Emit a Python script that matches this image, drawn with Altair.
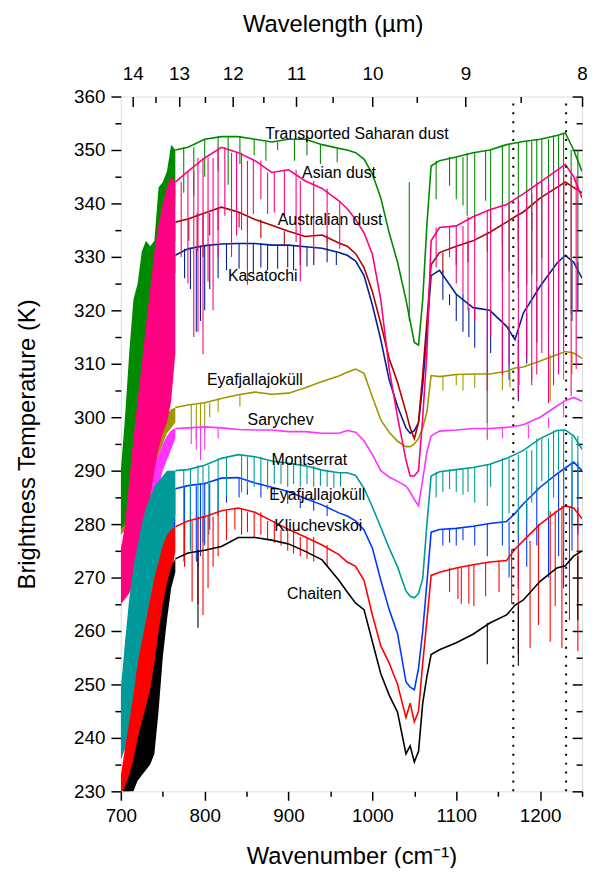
import altair as alt
import pandas as pd

FONT = "Liberation Sans"

# common wavenumber grid for the main spectra (cm-1)
WN = [765, 780, 800, 820, 840, 860, 880, 900, 920, 940,
      960, 970, 980, 990, 1000, 1010, 1020, 1030, 1040, 1045,
      1050, 1055, 1060, 1065, 1070, 1080, 1100, 1120, 1140, 1160,
      1170, 1180, 1200, 1220, 1230, 1240, 1250]
# grid of the dense CO2 band region
BAND_WN = [700, 705, 710, 715, 720, 725, 730, 735, 740, 745, 750, 755, 760, 765]

SAHARAN_BT = [350, 350.5, 352, 352.5, 352.5, 352, 351.5, 352, 352, 351,
              350.3, 350, 349.5, 348.3, 345.5, 341, 334.5, 329, 322, 318,
              314, 313.5, 322, 336, 347, 348, 348.7, 349.5, 350, 351,
              351.3, 351.6, 352, 352.7, 353.2, 350, 346]
SAHARAN_HI = [290, 300, 312, 322, 325, 331, 333, 332, 333, 343, 344, 346, 351, 350]
SAHARAN_LO = [279, 280, 281, 283, 285, 288, 292, 296, 300, 305, 312, 320, 330, 340]
SAHARAN_SPK_WN = [775, 787, 800, 816, 828, 842, 859, 873, 887, 907, 922, 938, 958, 1044,
                  1076, 1092, 1100, 1108, 1113, 1122, 1135, 1141, 1155, 1163, 1174, 1184,
                  1190, 1196, 1202, 1210, 1216, 1222, 1228, 1237, 1245]
SAHARAN_SPK_BT = [342, 341.5, 345, 346, 343.5, 347.4, 349, 348, 350, 348, 349, 347.4, 347.7, 344,
                  340.8, 343.3, 340.8, 339.6, 337.7, 334.6, 340.5, 334, 325.4, 327.3, 324.2, 324.8,
                  326.7, 325.4, 329.8, 322.4, 325.4, 326.7, 316.2, 319.3, 325.4]

ASIAN_BT = [344, 346, 348.5, 350.5, 349.5, 348, 345.8, 346.3, 344.2, 342.8,
            340.5, 339, 337, 334.5, 330.5, 322, 309, 300, 292, 289,
            289, 290, 300, 312, 333, 335.5, 335.8, 337.5, 338.8, 339.8,
            340.8, 341.8, 344, 346.2, 347.3, 345, 341]
ASIAN_HI = [275, 280, 288, 296, 303, 310, 317, 324, 331, 336, 340, 343, 345, 344]
ASIAN_LO = [265, 266, 267, 269, 272, 275, 280, 285, 290, 294, 297, 299, 303, 312]
ASIAN_SPK_WN = [772, 780, 787, 792, 798, 804, 810, 816, 824, 832, 838, 844, 851, 858, 867, 875,
                883, 895, 909, 914, 930, 946, 961,
                1076, 1092, 1100, 1108, 1114, 1122, 1137, 1141, 1155, 1163, 1174, 1184, 1190,
                1196, 1202, 1210, 1216, 1222, 1228, 1237, 1243]
ASIAN_SPK_BT = [330, 325, 315, 316, 311.8, 325.4, 320, 330, 337.7, 330, 334, 335, 324.8, 338, 340.8, 338,
                338.3, 337.7, 332.8, 325.4, 329, 332.8, 331.5,
                328, 330, 325, 323, 320, 318, 305, 315, 308, 310, 303.8, 311, 306,
                308, 312, 302.6, 306, 308, 312.4, 304, 309]

AUSTRALIAN_BT = [336.5, 337.1, 338.2, 339.3, 338.4, 337, 335.9, 334.8, 333.8, 334.1,
                 332.6, 332, 330.6, 328, 323.5, 317.5, 311, 306.5, 301, 298,
                 296, 299, 308, 318, 328.5, 330.8, 332, 333, 334.6, 336.5,
                 337.5, 338.4, 341, 343, 344, 343, 342]
AUSTRALIAN_HI = [288, 290, 293, 297, 300, 306, 312, 318, 322, 327, 331, 333, 335, 336.5]
AUSTRALIAN_LO = [283, 284, 286, 288, 290, 294, 298, 303, 308, 314, 320, 325, 330, 333]
AUSTRALIAN_SPK_WN = [781, 791, 798, 806, 816, 841, 851, 867, 895, 914, 946,
                     1084, 1100, 1114, 1137, 1155, 1174, 1190, 1210, 1228]
AUSTRALIAN_SPK_BT = [333, 331, 330, 334, 335, 335.5, 334.5, 333.5, 332, 331, 331.5,
                     327, 328.5, 329, 331, 332, 333, 335, 337, 338]

KASATOCHI_BT = [330.3, 331.5, 332.1, 332.4, 332.5, 332.5, 332.2, 332.2, 331.9, 331.6,
                330.8, 330.3, 329.2, 326.5, 321, 314.5, 307, 302, 298, 297,
                297.5, 299, 306, 316, 326.5, 327.5, 323, 320.5, 320, 317,
                314.5, 319.5, 324.5, 328.8, 330.3, 329, 326]
KASATOCHI_HI = [284, 287, 290, 294, 298, 303, 308, 313, 318, 322, 326, 328, 330, 330.3]
KASATOCHI_LO = [278, 279, 281, 283, 285, 288, 292, 297, 302, 308, 314, 320, 325, 327]
KASATOCHI_SPK_WN = [776, 783, 790, 795, 800, 806, 816, 826, 841, 851, 858, 867, 875, 887, 899,
                    906, 914, 922, 930, 946, 957,
                    1084, 1092, 1100, 1108, 1115, 1122, 1137, 1141, 1155, 1163, 1174, 1184,
                    1196, 1210, 1222, 1228, 1238, 1245]
KASATOCHI_SPK_BT = [326, 324, 316, 318, 320, 324, 326, 327.5, 327.8, 328, 327, 328, 327.5, 327.8, 328,
                    327.5, 328.5, 328.2, 328.5, 329, 328.5,
                    322, 321, 318, 316, 315, 313, 298.9, 312, 308, 307, 303, 310,
                    314, 316, 320, 315, 318, 320]

EYAF1_BT = [301.8, 302.3, 302.7, 303.5, 304.2, 304.7, 304.3, 304.5, 305.5, 306.7,
            307.7, 308.4, 309, 308.2, 303.8, 299.5, 297.2, 295.5, 294.5, 294.5,
            295, 296, 298, 301, 307.8, 307.6, 308, 308.1, 308.1, 308.6,
            309.2, 309.4, 310.5, 311.7, 312.3, 312, 311]
EYAF1_HI = [282, 283, 284, 285, 287, 289, 291, 293, 295, 297, 299, 300.5, 301.5, 301.8]
EYAF1_LO = [278, 279, 280, 281, 283, 285, 287, 289, 291, 293, 295, 297, 298, 299]
EYAF1_SPK_WN = [784, 790, 795, 800, 806, 816, 842,
                1084, 1100, 1108, 1122, 1137, 1155, 1164, 1175, 1190, 1212, 1228, 1238]
EYAF1_SPK_BT = [297.6, 296, 295, 297, 300, 301, 302,
                305, 306, 305, 305.5, 296, 305, 305.6, 306, 307, 303, 307, 308]

SARYCHEV_BT = [297.9, 298, 298.2, 298, 297.7, 297.6, 297.6, 297.3, 297.3, 297,
               297, 297.5, 297.2, 295.6, 293, 290, 288.8, 288, 287.1, 286,
               284.6, 283.4, 288.3, 293.5, 296.5, 297.4, 297.6, 297.9, 297.9, 298.1,
               298.3, 298.6, 300, 302.1, 303.1, 303.7, 303]
SARYCHEV_HI = [276, 277, 279, 281, 283, 285, 287, 289, 291, 293, 295, 296.5, 297.5, 298]
SARYCHEV_LO = [270, 271, 272, 274, 276, 278, 280, 282, 284, 287, 290, 292, 294, 296]
SARYCHEV_SPK_WN = [784, 790, 795, 800, 816, 1137, 1155, 1186, 1210, 1228]
SARYCHEV_SPK_BT = [295, 293.9, 292, 293.9, 296, 295.7, 296, 296, 298, 300]

MONTSERRAT_BT = [290, 290.2, 291, 292.3, 293, 292.6, 291.8, 291.4, 290.9, 290.1,
                 289.6, 289.6, 289.1, 286.7, 283.2, 279.4, 275.5, 272, 267.5, 266.5,
                 266.2, 267, 269.8, 280, 289, 289.8, 290.2, 290.6, 291.2, 292.3,
                 293, 293.8, 296, 297.5, 297.6, 296.5, 294]
MONTSERRAT_HI = [249, 258, 266, 272, 276, 280, 283, 285, 287, 288, 289, 290, 290, 290]
MONTSERRAT_LO = [236, 238, 242, 245, 247, 250, 252, 255, 258, 262, 266, 270, 276, 282]
MONTSERRAT_SPK_WN = [775, 783, 792, 798, 805, 816, 826, 844, 851, 859, 867, 875, 883, 891, 899,
                     906, 914, 922, 930, 938, 946, 954, 962,
                     1076, 1084, 1092, 1100, 1108, 1114, 1122, 1137, 1141, 1155, 1163, 1174,
                     1184, 1190, 1196, 1202, 1210, 1216, 1222, 1228, 1238, 1245]
MONTSERRAT_SPK_BT = [273, 275, 272, 276.5, 278, 281.5, 285.3, 285.9, 286.5, 287, 287.5, 286.5, 287.5, 287.5, 287,
                     287.5, 287, 287.5, 287, 287.2, 287, 286.8, 287,
                     285, 286, 286.5, 286, 285.5, 286, 284, 283.4, 287, 280, 282, 278,
                     281, 284, 286, 288, 281, 285, 290, 275, 280, 285]

EYAF2_BT = [286.6, 287.2, 287.6, 288.6, 288.7, 287.7, 286.9, 286.1, 284.8, 283.6,
            282.1, 281.5, 280.6, 278.9, 275.5, 269.5, 264, 259.5, 250.5, 249.5,
            249, 253, 260, 269, 278.5, 279, 279.2, 279.6, 280.1, 280.5,
            282, 283.8, 286.9, 289.4, 290.5, 291.6, 290]
EYAF2_HI = [248, 256, 262, 266, 270, 273, 275, 278, 280, 283, 285, 286, 286.5, 286.6]
EYAF2_LO = [236, 238, 240, 242, 245, 249, 252, 255, 258, 262, 266, 270, 276, 280]
EYAF2_SPK_WN = [776, 783, 790, 795, 800, 806, 816, 826, 841, 851, 867, 883, 899, 914, 930, 946,
                1084, 1092, 1100, 1108, 1122, 1137, 1155, 1163, 1174, 1184, 1196, 1210,
                1222, 1228, 1238, 1245]
EYAF2_SPK_BT = [278, 276, 273, 274, 276, 279, 282, 284, 285, 285.5, 285, 284.5, 283.8, 283, 282.5, 281.5,
                276, 276.5, 276, 277, 276, 274, 276, 270, 268, 272, 276, 270,
                274, 268, 275, 278]

KLIUCH_BT = [279.5, 280.6, 281.4, 282.5, 283, 282.2, 280.6, 279, 277.6, 276.1,
             274.3, 272.9, 272.1, 269.5, 263, 257.2, 254, 250, 243.8, 246.5,
             243, 245, 254, 262, 270.4, 271, 271.8, 272.4, 272.9, 273.2,
             275.3, 276.9, 280, 282.4, 283.4, 283, 281]
KLIUCH_HI = [233, 238, 243, 248, 254, 258, 262, 266, 270, 273, 276, 278, 279, 279.5]
KLIUCH_LO = [228, 229, 230, 232, 236, 238, 240, 243, 248, 254, 260, 265, 270, 275]
KLIUCH_SPK_WN = [776, 785, 792, 798, 804, 810, 816, 826, 836, 844, 851, 859, 867, 875, 883, 891,
                 899, 906, 914, 922, 930, 946,
                 1092, 1102, 1106, 1115, 1121, 1135, 1151, 1166, 1174, 1188, 1198, 1212,
                 1218, 1226, 1235, 1245]
KLIUCH_SPK_BT = [272, 265.5, 265, 263, 268, 272, 274, 277, 279, 278, 278.5, 277.5, 278, 277, 276.5, 276,
                 275, 274.5, 274, 273.5, 273, 272,
                 267.3, 266, 265.1, 265.1, 264.7, 266.5, 267.3, 265.1, 255.6, 256.8, 261.1, 258,
                 264.7, 256.8, 262, 256.2]

CHAITEN_BT = [273.5, 274.6, 275.1, 275.8, 277.5, 277.5, 277, 276.3, 274.9, 273.3,
              269.5, 267.3, 265.2, 264, 258, 252, 248, 244.8, 237, 238.5,
              235.5, 237.5, 246.5, 251.5, 255.6, 256.5, 257.8, 259.4, 261.5, 263,
              264.8, 265.8, 269.3, 271.8, 272.2, 274, 275]
CHAITEN_HI = [229, 231, 233, 236, 240, 243, 246, 249, 254, 260, 265, 269, 272, 273.5]
CHAITEN_LO = [226, 227, 229, 230, 232, 233, 234, 235, 237, 245, 255, 262, 268, 271]
CHAITEN_SPK_WN = [792, 1137, 1174, 1245]
CHAITEN_SPK_BT = [260.6, 253.8, 253.5, 262]

# label texts with their anchor positions (wavenumber, K)
LABELS = ["Transported Saharan dust", "Asian dust", "Australian dust", "Kasatochi",
          "Eyafjallajoküll", "Sarychev", "Montserrat", "Eyafjallajoküll", "Kliuchevskoi", "Chaiten"]
LABEL_WN = [981.5, 960.2, 949.6, 869.2, 859.8, 890.5, 924.8, 934.2, 935.4, 930.7]
LABEL_BT = [353.0, 345.6, 336.9, 326.5, 306.9, 299.4, 291.9, 285.4, 279.6, 267.0]

DOTTED_WN = [1168, 1231]

# drawing order: first is at the bottom
SERIES = [
    ("Kasatochi", "#00209F", KASATOCHI_BT, KASATOCHI_HI, KASATOCHI_LO, KASATOCHI_SPK_WN, KASATOCHI_SPK_BT),
    ("Australian dust", "#B00000", AUSTRALIAN_BT, AUSTRALIAN_HI, AUSTRALIAN_LO, AUSTRALIAN_SPK_WN, AUSTRALIAN_SPK_BT),
    ("Eyafjallajoküll 1", "#A09600", EYAF1_BT, EYAF1_HI, EYAF1_LO, EYAF1_SPK_WN, EYAF1_SPK_BT),
    ("Sarychev", "#FF33FF", SARYCHEV_BT, SARYCHEV_HI, SARYCHEV_LO, SARYCHEV_SPK_WN, SARYCHEV_SPK_BT),
    ("Transported Saharan dust", "#008A00", SAHARAN_BT, SAHARAN_HI, SAHARAN_LO, SAHARAN_SPK_WN, SAHARAN_SPK_BT),
    ("Asian dust", "#FF0080", ASIAN_BT, ASIAN_HI, ASIAN_LO, ASIAN_SPK_WN, ASIAN_SPK_BT),
    ("Eyafjallajoküll 2", "#0038FF", EYAF2_BT, EYAF2_HI, EYAF2_LO, EYAF2_SPK_WN, EYAF2_SPK_BT),
    ("Montserrat", "#009A9A", MONTSERRAT_BT, MONTSERRAT_HI, MONTSERRAT_LO, MONTSERRAT_SPK_WN, MONTSERRAT_SPK_BT),
    ("Kliuchevskoi", "#FF0000", KLIUCH_BT, KLIUCH_HI, KLIUCH_LO, KLIUCH_SPK_WN, KLIUCH_SPK_BT),
    ("Chaiten", "#000000", CHAITEN_BT, CHAITEN_HI, CHAITEN_LO, CHAITEN_SPK_WN, CHAITEN_SPK_BT),
]

W, H = 466, 702
XS = alt.Scale(domain=[700, 1250], nice=False, zero=False)
YS = alt.Scale(domain=[230, 360], nice=False, zero=False)

AX = dict(domain=False, grid=False, labelFont=FONT, labelFontSize=19, labelColor="black",
          tickColor="black", tickWidth=1.5, titleFont=FONT, titleFontSize=24,
          titleFontWeight="normal", titleColor="black", labelFlush=False,
          labelOverlap=False, labelBound=False)


def nearest(v):
    return min(range(len(WN)), key=lambda i: abs(WN[i] - v))


layers = []
for name, color, bt, hi, lo, swn, sbt in SERIES:
    band = pd.DataFrame({"x": BAND_WN, "hi": hi, "lo": lo})
    line = pd.DataFrame({"x": WN, "y": bt})
    spk = pd.DataFrame({"x": swn, "lo": sbt, "hi": [bt[nearest(v)] for v in swn]})
    layers.append(alt.Chart(band).mark_area(clip=True, color=color, opacity=1).encode(
        x=alt.X("x:Q", scale=XS, axis=None),
        y=alt.Y("hi:Q", scale=YS, axis=None), y2="lo:Q"))
    layers.append(alt.Chart(line).mark_line(clip=True, color=color, strokeWidth=1.6).encode(
        x=alt.X("x:Q", scale=XS, axis=None),
        y=alt.Y("y:Q", scale=YS, axis=None)))
    layers.append(alt.Chart(spk).mark_rule(clip=True, color=color, strokeWidth=1.1).encode(
        x=alt.X("x:Q", scale=XS, axis=None),
        y=alt.Y("hi:Q", scale=YS, axis=None), y2="lo:Q"))

dots = pd.DataFrame({"x": DOTTED_WN, "y0": [230, 230], "y1": [360, 360]})
layers.append(alt.Chart(dots).mark_rule(color="black", strokeWidth=2, strokeDash=[2, 7]).encode(
    x=alt.X("x:Q", scale=XS, axis=None),
    y=alt.Y("y0:Q", scale=YS, axis=None), y2="y1:Q"))

labels = pd.DataFrame({"t": LABELS, "x": LABEL_WN, "y": LABEL_BT})
layers.append(alt.Chart(labels).mark_text(font=FONT, fontSize=16, color="black",
                                          align="center", baseline="middle").encode(
    x=alt.X("x:Q", scale=XS, axis=None),
    y=alt.Y("y:Q", scale=YS, axis=None), text="t:N"))

# axis layers
one = pd.DataFrame({"x": [700], "y": [230]})
WL_MAJOR = [10000 / l for l in [14, 13, 12, 11, 10, 9, 8]]
WL_MINOR = [10000 / l for l in [13.5, 12.5, 11.5, 10.5, 9.5, 8.5]]

axA = alt.Chart(one).mark_point(opacity=0).encode(
    x=alt.X("x:Q", scale=XS, axis=alt.Axis(
        orient="bottom", values=list(range(700, 1251, 100)), tickSize=9, labelPadding=6,
        format="d", title="Wavenumber (cm⁻¹)", titleY=73, titleBaseline="alphabetic", **AX)),
    y=alt.Y("y:Q", scale=YS, axis=alt.Axis(
        orient="left", values=list(range(230, 361, 10)), tickSize=10, labelPadding=6,
        format="d", title="Brightness Temperature (K)", titleX=-87, titleBaseline="alphabetic", **AX)))
axB = alt.Chart(one).mark_point(opacity=0).encode(
    x=alt.X("x:Q", scale=XS, axis=alt.Axis(
        orient="bottom", values=list(range(750, 1251, 100)), tickSize=5, labels=False, title=None, **AX)),
    y=alt.Y("y:Q", scale=YS, axis=alt.Axis(
        orient="left", values=list(range(235, 360, 10)), tickSize=6, labels=False, title=None, **AX)))
axC = alt.Chart(one).mark_point(opacity=0).encode(
    x=alt.X("x:Q", scale=XS, axis=alt.Axis(
        orient="top", values=WL_MAJOR, ticks=False, labelPadding=13,
        labelExpr="format(round(10000/datum.value),'d')",
        title="Wavelength (µm)", titleX=214, titleY=-66, titleBaseline="alphabetic", **AX)),
    y=alt.Y("y:Q", scale=YS, axis=alt.Axis(
        orient="left", offset=-W, values=list(range(230, 361, 10)), tickSize=10,
        labels=False, title=None, **AX)))
axD = alt.Chart(one).mark_point(opacity=0).encode(
    x=alt.X("x:Q", scale=XS, axis=alt.Axis(
        orient="bottom", offset=-H, values=WL_MAJOR, tickSize=10, labels=False, title=None, **AX)),
    y=alt.Y("y:Q", scale=YS, axis=alt.Axis(
        orient="left", offset=-W, values=list(range(235, 360, 10)), tickSize=6,
        labels=False, title=None, **AX)))
axE = alt.Chart(one).mark_point(opacity=0).encode(
    x=alt.X("x:Q", scale=XS, axis=alt.Axis(
        orient="bottom", offset=-H, values=WL_MINOR, tickSize=6, labels=False, title=None, **AX)),
    y=alt.Y("y:Q", scale=YS, axis=None))

layers += [axA, axB, axC, axD, axE]

chart = alt.layer(*layers).resolve_axis(x="independent", y="independent").properties(
    width=W, height=H, autosize="none",
    padding={"left": 114, "top": 85, "right": 5, "bottom": 73},
).configure_view(stroke="black", strokeWidth=1.5).configure(background="white")

chart.save("out.html", embed_options={"renderer": "svg", "actions": False})
